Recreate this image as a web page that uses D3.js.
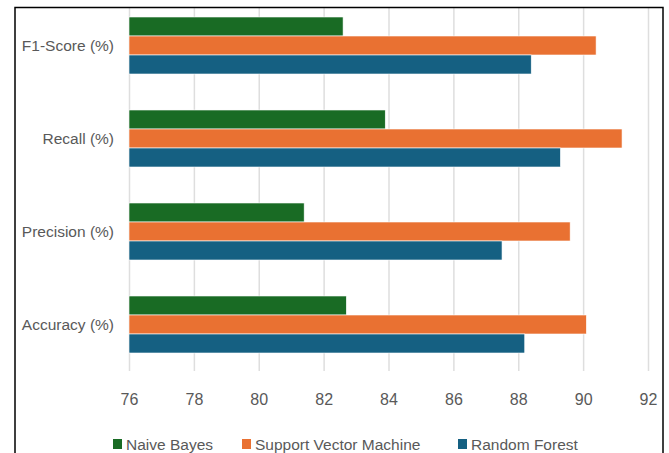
<!DOCTYPE html>
<html lang="en">

<head>
    <meta charset="UTF-8">
    <title>Model comparison</title>
    <style>
        body { margin: 0; background: #fff; }
        svg { display: block; }
    </style>
</head>

<body>
    <script src="https://cdn.jsdelivr.net/npm/d3@7"></script>
    <script>
        // categories top to bottom
        const metrics = ['F1-Score (%)', 'Recall (%)', 'Precision (%)', 'Accuracy (%)'];
        const models = ['Naive Bayes', 'Support Vector Machine', 'Random Forest'];
        // values in the order of metrics
        const naiveBayes = [82.6, 83.9, 81.4, 82.7];
        const svm = [90.4, 91.2, 89.6, 90.1];
        const randomForest = [88.4, 89.3, 87.5, 88.2];
        const xTicks = [76, 78, 80, 82, 84, 86, 88, 90, 92];
        const colors = ['#196b24', '#e97132', '#156082'];

        const w = 669;
        const h = 453;
        const font = '"Liberation Sans", Arial, sans-serif';

        const svg = d3.select('body')
            .append('svg')
            .attr('width', w)
            .attr('height', h);

        const xScale = d3.scaleLinear()
            .domain([76, 92])
            .range([129, 648]);

        const yScale = d3.scaleBand()
            .domain(metrics)
            .range([-1, 371])
            .paddingInner(0.387)
            .paddingOuter(0.1935);

        const inner = d3.scaleBand()
            .domain(models)
            .range([0, yScale.bandwidth()]);

        // gridlines
        const grid = svg.append('g')
            .attr('transform', 'translate(0,371)')
            .call(d3.axisBottom(xScale).tickValues(xTicks).tickSize(-363).tickFormat(''));
        grid.select('.domain').remove();
        grid.selectAll('line').attr('stroke', '#dedede').attr('stroke-width', 1.5);

        // tick labels
        const axis = svg.append('g')
            .attr('transform', 'translate(0,390)')
            .call(d3.axisBottom(xScale).tickValues(xTicks).tickSize(0).tickPadding(0));
        axis.select('.domain').remove();
        axis.selectAll('text')
            .attr('font-family', font)
            .attr('font-size', '16px')
            .attr('fill', '#595959')
            .attr('dy', '0.95em');

        const rows = metrics.map((m, i) => ({
            metric: m,
            values: [naiveBayes[i], svm[i], randomForest[i]]
        }));

        const groups = svg.selectAll('g.grp')
            .data(rows)
            .enter()
            .append('g')
            .attr('class', 'grp')
            .attr('transform', (d) => `translate(0,${yScale(d.metric)})`);

        groups.selectAll('rect')
            .data((d) => d.values.map((v, j) => ({ model: models[j], value: v, j: j })))
            .enter()
            .append('rect')
            .attr('x', xScale(76))
            .attr('y', (d) => inner(d.model))
            .attr('width', (d) => xScale(d.value) - xScale(76))
            .attr('height', inner.bandwidth())
            .attr('fill', (d) => colors[d.j])
            .attr('stroke', '#ffffff')
            .attr('stroke-width', 0.6);

        // category labels
        svg.selectAll('text.cat')
            .data(metrics)
            .enter()
            .append('text')
            .attr('class', 'cat')
            .text((d) => d)
            .attr('x', 114)
            .attr('y', (d) => yScale(d) + yScale.bandwidth() / 2)
            .attr('dy', '0.35em')
            .attr('text-anchor', 'end')
            .attr('font-family', font)
            .attr('font-size', '15.5px')
            .attr('fill', '#595959');

        // legend
        const legendX = [113, 242, 458];
        const legend = svg.selectAll('g.leg')
            .data(models)
            .enter()
            .append('g')
            .attr('class', 'leg')
            .attr('transform', (d, i) => `translate(${legendX[i]},439)`);
        legend.append('rect')
            .attr('width', 9)
            .attr('height', 10)
            .attr('fill', (d, i) => colors[i]);
        legend.append('text')
            .text((d) => d)
            .attr('x', 13)
            .attr('y', 11)
            .attr('font-family', font)
            .attr('font-size', '15.5px')
            .attr('fill', '#595959');

        // cover the part of the plot above the frame
        svg.append('rect')
            .attr('x', 0).attr('y', 0)
            .attr('width', w).attr('height', 6.75)
            .attr('fill', '#fff');

        // outer frame (bottom edge is off the picture)
        svg.append('rect')
            .attr('x', 15)
            .attr('y', 7.5)
            .attr('width', 648)
            .attr('height', 460)
            .attr('fill', 'none')
            .attr('stroke', '#000')
            .attr('stroke-width', 1.5);
    </script>
</body>

</html>
